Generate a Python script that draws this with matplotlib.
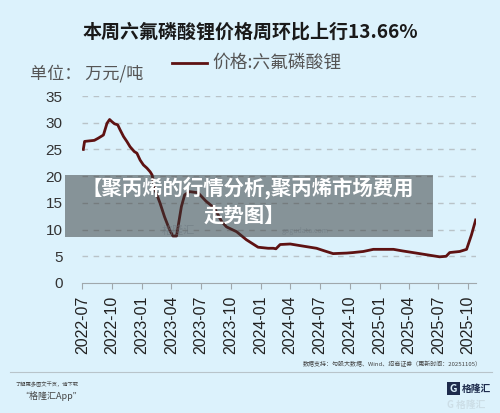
import matplotlib
matplotlib.use("Agg")
import matplotlib.pyplot as plt
from matplotlib.patches import Rectangle
import pandas as pd

plt.rcParams['font.family'] = ['Noto Sans CJK SC', 'DejaVu Sans']

# ---- data ----
dates = ["2022-07-04", "2022-07-08", "2022-08-07", "2022-08-19", "2022-09-04",
         "2022-09-15", "2022-09-23", "2022-09-30", "2022-10-08", "2022-10-18",
         "2022-10-25", "2022-11-05", "2022-11-15", "2022-11-25", "2022-12-08",
         "2022-12-16", "2022-12-26", "2023-01-05", "2023-01-16", "2023-01-26",
         "2023-02-01", "2023-02-10", "2023-02-25", "2023-03-11", "2023-03-27",
         "2023-04-06", "2023-04-17", "2023-05-02", "2023-05-12", "2023-05-27",
         "2023-06-22", "2023-07-17", "2023-08-12", "2023-09-03", "2023-09-18",
         "2023-10-19", "2023-11-18", "2023-12-24", "2024-01-24", "2024-02-09",
         "2024-02-17", "2024-03-01", "2024-04-01", "2024-05-01", "2024-06-21",
         "2024-07-16", "2024-08-11", "2024-09-22", "2024-10-12", "2024-11-12",
         "2024-12-13", "2025-02-13", "2025-03-13", "2025-04-24", "2025-06-04",
         "2025-07-05", "2025-07-25", "2025-08-05", "2025-09-05", "2025-09-26",
         "2025-10-11", "2025-10-24"]
prices = [25.0, 26.5, 26.7, 27.1, 27.7,
          29.9, 30.6, 30.2, 29.8, 29.6,
          28.7, 27.4, 26.5, 25.5, 24.6,
          24.3, 23.0, 22.1, 21.5, 20.8,
          20.2, 17.4, 15.0, 12.4, 9.9,
          8.8, 8.8, 14.3, 16.5, 17.1,
          16.9, 15.3, 14.0, 11.5, 10.5,
          9.6, 8.1, 6.7, 6.5, 6.5,
          6.4, 7.2, 7.3, 7.0, 6.5,
          6.0, 5.5, 5.6, 5.7, 5.9,
          6.3, 6.3, 6.0, 5.6, 5.2,
          4.9, 5.0, 5.7, 5.9, 6.3,
          9.0, 11.8]
tick_labels = ["2022-07", "2022-10", "2023-01", "2023-04", "2023-07", "2023-10",
               "2024-01", "2024-04", "2024-07", "2024-10", "2025-01", "2025-04",
               "2025-07", "2025-10"]
y_ticks = [0, 5, 10, 15, 20, 25, 30, 35]

title = "本周六氟磷酸锂价格周环比上行13.66%"
series_name = "价格:六氟磷酸锂"
unit = "单位： 万元/吨"
banner1 = "【聚丙烯的行情分析,聚丙烯市场费用"
banner2 = "走势图】"
source = "数据支持：勾股大数据、Wind、招商证券（更新时间：20251105）"

W, H = 500, 413
BG = "#dcf2fc"
LINE = "#5e1212"

def fx(x):
    return x / W

def fy(y):
    return 1 - y / H

fig = plt.figure(figsize=(W / 100, H / 100), dpi=100, facecolor=BG)

ax = fig.add_axes([fx(82), fy(283), (476 - 82) / W, (283 - 96) / H])
ax.set_facecolor(BG)

d = pd.to_datetime(dates)
ax.plot(d, prices, color=LINE, lw=2.0, solid_joinstyle='round', zorder=3)

ax.set_ylim(0, 35)
ax.set_xlim(pd.Timestamp("2022-06-30"), pd.Timestamp("2025-10-25"))
ax.set_yticks(y_ticks)
ax.set_yticklabels([str(v) for v in y_ticks], family=['Liberation Sans', 'DejaVu Sans'],
                   fontsize=11, color="#333333")
ax.tick_params(axis='y', length=0, pad=14)
for v in y_ticks[1:]:
    ax.axhline(v, color="#b9c3c8", lw=1.0, ls=(0, (4, 4)), zorder=1)

tdates = pd.to_datetime([t + "-01" for t in tick_labels])
ax.set_xticks(tdates)
ax.set_xticklabels(tick_labels, rotation=90, family=['Liberation Sans', 'DejaVu Sans'],
                   fontsize=11.5, color="#222222")
ax.tick_params(axis='x', length=4, color="#a0a8ac", width=0.8, pad=5)

for s in ['top', 'right', 'left']:
    ax.spines[s].set_visible(False)
ax.spines['bottom'].set_color("#a0a8ac")
ax.spines['bottom'].set_linewidth(0.8)

# title and legend
fig.text(fx(250), fy(32), title, ha='center', va='center', fontsize=13.7,
         fontweight='bold', color="#1a1a1a")
fig.add_artist(plt.Line2D([fx(172), fx(207)], [fy(63), fy(63)], color=LINE, lw=2.0))
fig.text(fx(212), fy(63), series_name, ha='left', va='center', fontsize=12.8,
         color="#555555")
fig.text(fx(30), fy(74), unit, ha='left', va='center', fontsize=12.3, color="#555555")

# watermark (faint)
fig.text(fx(178), fy(231), "格隆汇", ha='center', va='center', fontsize=8,
         color="#9fb3c3", alpha=0.5)
fig.text(fx(305), fy(231), "gogudata.com", ha='center', va='center', fontsize=5,
         color="#9fb3c3", alpha=0.5)

# banner overlay
fig.add_artist(Rectangle((fx(65), fy(237)), (433 - 65) / W, (237 - 175) / H,
                         transform=fig.transFigure, facecolor="#323636", alpha=0.5,
                         edgecolor='none', zorder=5))
fig.text(fx(248), fy(188), banner1, ha='center', va='center', fontsize=14.7,
         fontweight='bold', color='white', zorder=6)
fig.text(fx(244), fy(215), banner2, ha='center', va='center', fontsize=14.7,
         fontweight='bold', color='white', zorder=6)

# footer
fig.text(fx(482), fy(364), source, ha='right', va='center', fontsize=4.3, color="#444444")
fig.add_artist(plt.Line2D([fx(10), fx(492)], [fy(371.5), fy(371.5)], color="#b8c4ca", lw=0.8))
fig.text(fx(15), fy(384), "了解更多图文干货，请下载", ha='left', va='center', fontsize=3.8,
         color="#444444", style='italic')
fig.text(fx(20), fy(396), "“格隆汇App”", ha='left', va='center', fontsize=6.5,
         color="#444444", style='italic')

# logo
fig.add_artist(Rectangle((fx(447), fy(395)), 13 / W, 13 / H, transform=fig.transFigure,
                         facecolor="#1d2b4c", edgecolor='none'))
fig.text(fx(453.5), fy(388.5), "G", ha='center', va='center', fontsize=7.5, fontweight='bold',
         color=BG)
fig.text(fx(462), fy(388.5), "格隆汇", ha='left', va='center', fontsize=7,
         fontweight='bold', color="#1d2b4c")
fig.text(fx(447), fy(405), "G 格隆汇", ha='left', va='center', fontsize=7,
         fontweight='bold', color="#c6d6de", alpha=0.7)

fig.savefig("out.png", dpi=100, facecolor=BG)
